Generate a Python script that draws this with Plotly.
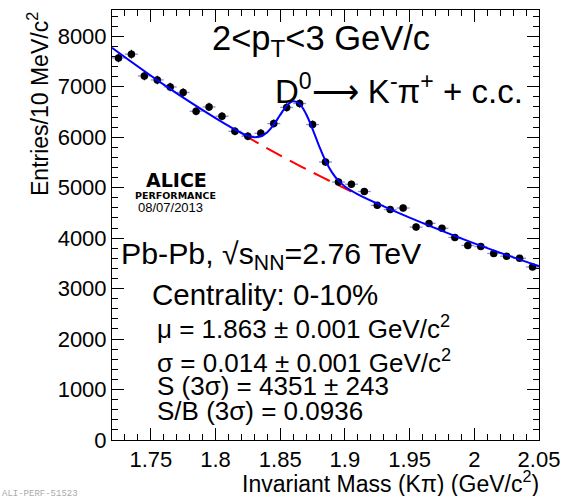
import numpy as np
import plotly.graph_objects as go

# ---- data ----
mass_bins = [1.725, 1.735, 1.745, 1.755, 1.765, 1.775, 1.785, 1.795, 1.805, 1.815,
             1.825, 1.835, 1.845, 1.855, 1.865, 1.875, 1.885, 1.895, 1.905, 1.915,
             1.925, 1.935, 1.945, 1.955, 1.965, 1.975, 1.985, 1.995, 2.005, 2.015,
             2.025, 2.035, 2.045]
counts = [7571, 7645, 7214, 7135, 6996, 6885, 6514, 6599, 6415, 6117,
          6018, 6077, 6270, 6590, 6667, 6250, 5508, 5111, 5068, 4924,
          4649, 4566, 4596, 4218, 4292, 4195, 4014, 3855, 3832, 3696,
          3643, 3600, 3429]
bin_half_width = 0.005

# total fit curve (signal + background)
fit_x = [1.72, 1.76, 1.80, 1.82, 1.825, 1.83, 1.835, 1.84, 1.845, 1.85, 1.855,
         1.86, 1.865, 1.87, 1.875, 1.88, 1.885, 1.89, 1.895, 1.90, 1.91, 1.93,
         1.95, 2.00, 2.05]
fit_y = [7770, 7040, 6378, 6083, 6028, 6001, 6018, 6100, 6249, 6442, 6621,
         6711, 6659, 6460, 6159, 5829, 5533, 5303, 5138, 5023, 4868, 4629,
         4406, 3895, 3444]
# background-only curve under the peak
bkg_x = [1.821, 1.84, 1.86, 1.88, 1.905]
bkg_y = [6057, 5779, 5502, 5237, 4924]

x_tickvals = [1.75, 1.8, 1.85, 1.9, 1.95, 2.0, 2.05]
x_ticktext = ["1.75", "1.8", "1.85", "1.9", "1.95", "2", "2.05"]
y_tickvals = [0, 1000, 2000, 3000, 4000, 5000, 6000, 7000, 8000]
y_ticktext = ["0", "1000", "2000", "3000", "4000", "5000", "6000", "7000", "8000"]

FONT = "Liberation Sans, Arial, Helvetica, sans-serif"

fig = go.Figure()

fig.add_trace(go.Scatter(
    x=bkg_x, y=bkg_y, mode="lines", line_shape="spline",
    line=dict(color="#ff0000", width=2, dash="18px,9px"),
    hoverinfo="skip", showlegend=False))

fig.add_trace(go.Scatter(
    x=mass_bins, y=counts, mode="markers",
    marker=dict(color="black", size=7.5, symbol="circle"),
    error_x=dict(type="constant", value=bin_half_width, color="rgba(90,90,215,0.7)",
                 thickness=1.3, width=0),
    error_y=dict(type="data", array=np.sqrt(np.array(counts, dtype=float)),
                 color="black", thickness=1.2, width=0),
    showlegend=False))

fig.add_trace(go.Scatter(
    x=fit_x, y=fit_y, mode="lines", line_shape="spline",
    line=dict(color="#0000ff", width=2),
    hoverinfo="skip", showlegend=False))

def px2paper(px, py):
    return (px - 112) / 427.0, (440 - py) / 430.0

annots = []
def add_text(text, px, py, size, xanchor="left", color="black", family=FONT, angle=0):
    x, y = px2paper(px, py)
    annots.append(dict(text=text, x=x, y=y, xref="paper", yref="paper",
                       xanchor=xanchor, yanchor="middle", showarrow=False,
                       textangle=angle,
                       font=dict(size=size, color=color, family=family)))

add_text("2&lt;p<sub>T</sub>&lt;3 GeV/c", 210, 41, 34.5)
add_text("D<sup>0</sup>⟶ K<sup>-</sup>π<sup>+</sup> + c.c.", 273, 89, 33)
add_text("Pb-Pb, √s<sub>NN</sub>=2.76 TeV", 119, 255, 30.3)
add_text("Centrality: 0-10%", 150, 294, 29.5)
add_text("μ = 1.863 ± 0.001 GeV/c<sup>2</sup>", 155, 327, 26)
add_text("σ = 0.014 ± 0.001 GeV/c<sup>2</sup>", 155, 361, 26)
add_text("S (3σ) = 4351 ± 243", 155, 386, 26)
add_text("S/B (3σ) = 0.0936", 155, 411, 26)
add_text("<b>ALICE</b>", 176, 180, 19, xanchor="center", family="DejaVu Sans, sans-serif")
add_text("<b>PERFORMANCE</b>", 175.5, 195, 9.5, xanchor="center", family="DejaVu Sans, sans-serif")
add_text("08/07/2013", 170, 208, 13, xanchor="center")
add_text("Entries/10 MeV/c<sup>2</sup>", 38, 104, 23, xanchor="center", angle=-90)
add_text("Invariant Mass (Kπ) (GeV/c<sup>2</sup>)", 541, 482, 23, xanchor="right")
add_text("ALI-PERF-51523", 0, 494, 9, color="#aaaaaa", family="Liberation Mono, monospace")

fig.update_layout(
    width=566, height=496,
    margin=dict(l=112, r=27, t=10, b=56, pad=0),
    paper_bgcolor="white", plot_bgcolor="white",
    font=dict(family=FONT, size=22, color="black"),
    annotations=annots,
    xaxis=dict(range=[1.72, 2.05], tickvals=x_tickvals, ticktext=x_ticktext,
               ticks="inside", ticklen=12, tickwidth=1, tickcolor="black",
               minor=dict(dtick=0.01, tick0=1.72, ticks="inside", ticklen=6,
                          tickcolor="black", tickwidth=1, showgrid=False),
               showline=True, linecolor="black", linewidth=1, mirror="ticks",
               showgrid=False, zeroline=False, automargin=False,
               tickfont=dict(size=22, family=FONT)),
    yaxis=dict(range=[0, 8520], tickvals=y_tickvals, ticktext=y_ticktext,
               ticks="inside", ticklen=12, tickwidth=1, tickcolor="black",
               minor=dict(dtick=200, tick0=0, ticks="inside", ticklen=6,
                          tickcolor="black", tickwidth=1, showgrid=False),
               showline=True, linecolor="black", linewidth=1, mirror="ticks",
               showgrid=False, zeroline=False, automargin=False,
               tickfont=dict(size=22, family=FONT)),
)

fig.write_html("out.html", config={"displayModeBar": False},
               post_script="document.body.style.margin='0';document.body.style.padding='0';")
